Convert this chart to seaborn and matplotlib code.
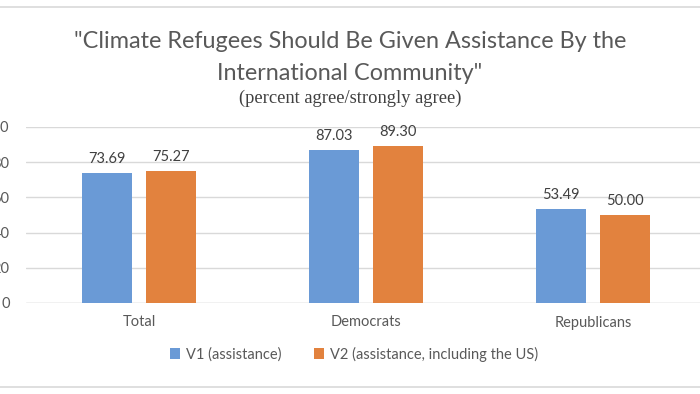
"""Grouped bar chart: climate refugee assistance survey, V1 vs V2 wording."""

import matplotlib
matplotlib.use("Agg")
import matplotlib.pyplot as plt
import pandas as pd
import seaborn as sns
from matplotlib.lines import Line2D

groups = ["Total", "Democrats", "Republicans"]
v1_values = [73.69, 87.03, 53.49]
v2_values = [75.27, 89.30, 50.00]
series_names = ["V1 (assistance)", "V2 (assistance, including the US)"]
y_ticks = [0, 20, 40, 60, 80, 100]

BLUE = "#6A9AD6"
ORANGE = "#E2823E"
GRID = "#D9D9D9"
TEXT = "#595959"

sns.set_theme(style="white")
plt.rcParams["font.family"] = ["Lato", "DejaVu Sans"]

df = pd.DataFrame({
    "group": groups * 2,
    "value": v1_values + v2_values,
    "series": [series_names[0]] * 3 + [series_names[1]] * 3,
})

fig = plt.figure(figsize=(7, 3.94), dpi=100)
# axes runs slightly past the right edge, like the cropped original
ax = fig.add_axes([25.5 / 700, 91 / 394, 681 / 700, 176 / 394])

sns.barplot(data=df, x="group", y="value", hue="series", order=groups,
            hue_order=series_names, palette=[BLUE, ORANGE], saturation=1,
            width=0.564, gap=0.219, linewidth=0, ax=ax, legend=True)

for cont in ax.containers:
    ax.bar_label(cont, fmt="%.2f", padding=5, fontsize=10.5, color="#404040")

ax.set_ylim(0, 100)
ax.set_xlim(-0.5, 2.5)
ax.set_yticks(y_ticks)
ax.set_yticklabels([str(t) for t in y_ticks])
ax.yaxis.grid(True, color=GRID, linewidth=1)
ax.set_axisbelow(True)
for side in ["top", "right", "left", "bottom"]:
    ax.spines[side].set_visible(False)
ax.axhline(0, color=GRID, linewidth=1, zorder=0)
# left labels are cut by the figure edge, as in the cropped original
ax.tick_params(axis="y", length=0, pad=11.5, labelsize=10.5, labelcolor=TEXT)
ax.tick_params(axis="x", length=0, pad=9, labelsize=10.5, labelcolor=TEXT)
ax.set_xlabel("")
ax.set_ylabel("")

leg = ax.legend(loc="center", bbox_to_anchor=(354 / 700, 1 - 354 / 394),
                bbox_transform=fig.transFigure, ncol=2, frameon=False,
                fontsize=10.5, handlelength=0.7, handleheight=0.7,
                handletextpad=0.4, columnspacing=2.2)
for txt in leg.get_texts():
    txt.set_color(TEXT)

fig.text(0.5, 1 - 42 / 394, "\"Climate Refugees Should Be Given Assistance By the",
         ha="center", va="center", fontsize=16.8, color=TEXT)
fig.text(0.5, 1 - 74 / 394, "International Community\"",
         ha="center", va="center", fontsize=16.8, color=TEXT)
fig.text(0.5, 1 - 98 / 394, "(percent agree/strongly agree)",
         ha="center", va="center", fontsize=13.3, color="#404040",
         family=["Liberation Serif", "DejaVu Serif"])

# light frame lines of the original chart area
for yy in (7, 387):
    fig.add_artist(Line2D([0, 1], [1 - yy / 394] * 2, color=GRID, linewidth=1.2,
                          transform=fig.transFigure))

fig.savefig("out.png", dpi=100)
